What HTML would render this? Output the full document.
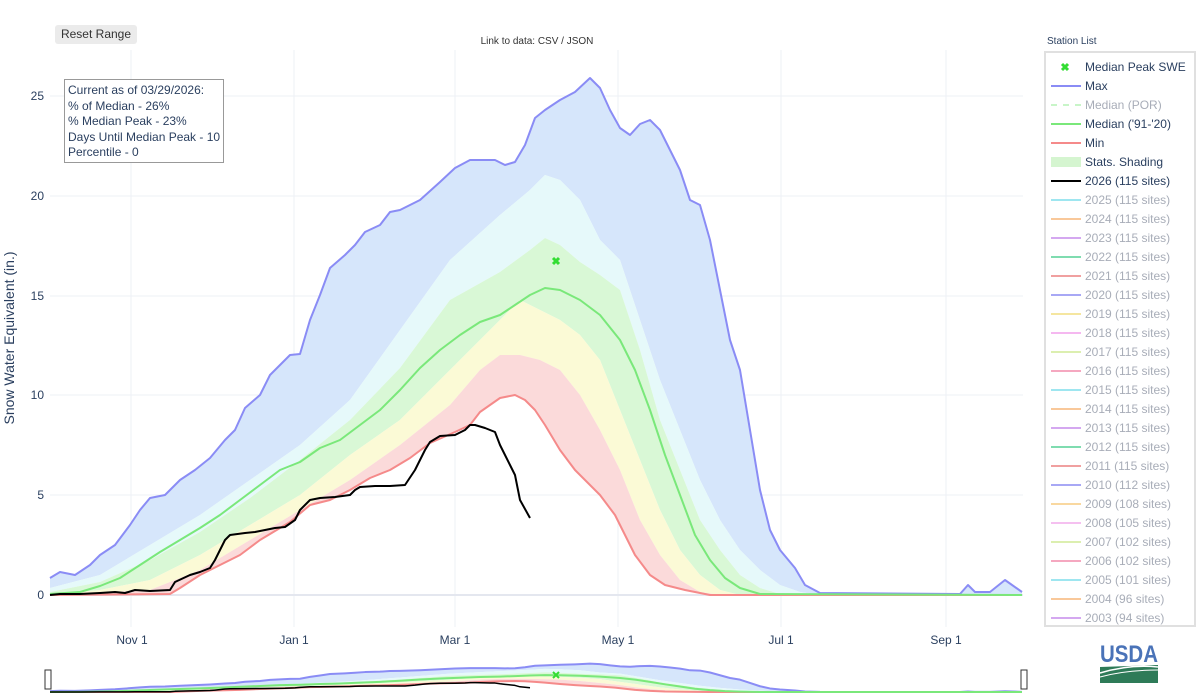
<!DOCTYPE html>
<html><head><meta charset="utf-8"><style>
body{margin:0;background:#fff;font-family:"Liberation Sans",sans-serif;}
svg{display:block}
</style></head><body>
<svg id="s" width="1200" height="700" xmlns="http://www.w3.org/2000/svg" font-family="Liberation Sans, sans-serif">
<rect width="1200" height="700" fill="#fff"/>
<g stroke="#eef0f6" stroke-width="1">
<line x1="131" y1="50" x2="131" y2="627"/><line x1="294" y1="50" x2="294" y2="627"/>
<line x1="455" y1="50" x2="455" y2="627"/><line x1="618" y1="50" x2="618" y2="627"/>
<line x1="781" y1="50" x2="781" y2="627"/><line x1="946" y1="50" x2="946" y2="627"/>
<line x1="50" y1="96" x2="1023" y2="96"/><line x1="50" y1="196" x2="1023" y2="196"/>
<line x1="50" y1="296" x2="1023" y2="296"/><line x1="50" y1="395" x2="1023" y2="395"/>
<line x1="50" y1="495" x2="1023" y2="495"/>
</g>
<line x1="50" y1="595" x2="1023" y2="595" stroke="#e4e7ef" stroke-width="2"/>
<g id="main"></g>
<g id="mini" transform="translate(0,659.3) scale(1,0.055)"></g>
<path d="M553,258 l6,6 M559,258 l-6,6" stroke="#33dd33" stroke-width="3"/>
<path d="M553,672 l6,6 M559,672 l-6,6" stroke="#33dd33" stroke-width="2"/>
<rect x="45" y="670" width="6" height="19" fill="#fff" stroke="#333"/>
<rect x="1021" y="670" width="6" height="19" fill="#fff" stroke="#333"/>
<g font-size="12" fill="#2a3f5f" text-anchor="end">
<text x="44" y="100">25</text><text x="44" y="200">20</text><text x="44" y="300">15</text>
<text x="44" y="399">10</text><text x="44" y="499">5</text><text x="44" y="599">0</text>
</g>
<g font-size="12" fill="#2a3f5f" text-anchor="middle">
<text x="132" y="644">Nov  1</text><text x="294" y="644">Jan  1</text><text x="455" y="644">Mar  1</text>
<text x="618" y="644">May  1</text><text x="781" y="644">Jul  1</text><text x="946" y="644">Sep  1</text>
</g>
<text transform="translate(14,338) rotate(-90)" font-size="14" fill="#2a3f5f" text-anchor="middle">Snow Water Equivalent (in.)</text>
<rect x="55" y="25" width="82" height="19" rx="3" fill="#ebebeb"/>
<text x="96" y="38" font-size="12" fill="#333" text-anchor="middle">Reset Range</text>
<text x="537" y="44" font-size="10" fill="#333" text-anchor="middle">Link to data: CSV / JSON</text>
<rect x="64.5" y="79.5" width="159" height="83" fill="#fff" stroke="#999"/>
<g font-size="12" fill="#2a3f5f"><text x="68" y="94">Current as of 03/29/2026:</text><text x="68" y="110">% of Median - 26%</text>
<text x="68" y="125">% Median Peak - 23%</text><text x="68" y="141">Days Until Median Peak - 10</text><text x="68" y="156">Percentile - 0</text></g>
<text x="1047" y="44" font-size="10" fill="#2a3f5f">Station List</text>
<rect x="1045" y="52" width="150" height="574" fill="#fff" stroke="#e0e0e0" stroke-width="2"/>
<g id="leg" font-size="12"></g>
<g>
<text x="1129" y="662" font-size="24" fill="#4a73b8" text-anchor="middle" font-weight="bold" textLength="58" lengthAdjust="spacingAndGlyphs">USDA</text>
<path d="M1100,667 L1158,665 L1158,683 L1100,683 Z" fill="#2e7b58"/>
<path d="M1100,673 Q1130,664 1158,667" stroke="#fff" stroke-width="1.5" fill="none"/>
<path d="M1100,677 Q1125,670 1158,670" stroke="#fff" stroke-width="1" fill="none"/>
</g>
</svg>
<script>
const P=s=>s.trim().split(/\s+/).map(t=>t.split(',').map(Number));
const max=P(`50,578 60,572 75,575 90,565 100,555 115,545 130,525 140,510 150,498 165,495 180,480 195,470 210,458 225,440 235,430 245,408 260,395 270,375 285,360 290,355 300,354 310,320 320,295 330,268 345,255 355,245 365,232 380,225 390,212 400,210 420,200 440,182 455,168 470,160 495,160 505,165 515,162 525,145 535,118 545,110 560,100 575,92 590,78 600,88 610,110 620,128 630,135 640,124 650,120 660,130 670,150 680,170 690,200 700,205 710,240 720,290 730,340 740,370 750,430 760,490 770,530 780,550 795,568 805,585 820,593 960,594 968,585 975,592 990,592 1005,580 1022,592`);
const p90=P(`50,588 100,575 150,545 200,515 250,480 300,445 350,400 400,330 450,260 500,215 530,190 545,175 560,180 580,200 600,240 620,260 640,320 660,380 680,430 700,480 720,520 740,550 760,570 780,585 800,592 820,595 1022,595`);
const p70=P(`50,592 100,582 150,560 200,532 250,498 300,460 350,420 400,368 450,300 500,272 530,250 545,238 560,245 580,262 600,275 620,290 640,350 660,420 680,470 700,520 720,550 740,575 760,588 780,594 1022,595`);
const p30=P(`50,595 100,590 150,580 200,555 250,525 300,495 350,455 400,420 450,370 480,340 500,320 520,300 540,310 560,320 580,335 600,360 620,410 640,460 660,510 680,550 700,575 720,590 740,595 1022,595`);
const p10=P(`50,595 150,590 200,570 250,540 300,510 350,480 400,445 450,405 480,370 500,355 520,355 540,360 560,370 580,395 600,430 620,470 640,520 660,555 680,580 700,592 720,595 1022,595`);
const min=P(`50,595 170,594 180,588 200,575 220,565 240,555 260,540 290,522 310,505 330,500 350,490 370,478 390,470 410,458 430,443 455,432 470,425 480,412 500,398 515,395 525,400 535,410 545,425 560,450 575,470 590,485 600,495 615,515 625,535 635,555 650,575 665,585 685,590 710,595 1022,595`);
const med=P(`50,594 80,592 100,586 120,578 140,565 160,552 180,540 200,528 220,515 240,500 260,485 280,470 300,462 320,448 340,440 360,425 380,410 400,390 420,368 440,350 460,335 480,322 500,315 515,305 530,295 545,288 560,290 580,300 600,315 620,340 635,370 650,410 665,455 680,495 695,535 710,560 725,578 740,588 760,594 1022,595`);
const cur=P(`50,595 60,594 80,594 100,593 115,592 125,593 135,590 150,591 170,590 175,582 190,575 200,572 210,568 215,560 225,540 230,535 245,533 255,532 265,530 275,528 285,527 295,520 300,510 310,500 320,498 335,497 350,495 355,490 360,487 375,486 390,486 405,485 415,470 425,450 430,442 440,436 455,435 465,430 470,425 475,425 485,428 490,430 495,432 500,445 505,455 510,465 515,475 520,500 530,518`);
const pts=a=>a.map(p=>p.join(',')).join(' ');
function band(t,b,c){return `<polygon points="${pts(t)} ${pts(b.slice().reverse())}" fill="${c}" stroke="none"/>`}
function line(a,c,w){return `<polyline points="${pts(a)}" fill="none" stroke="${c}" stroke-width="${w}" vector-effect="non-scaling-stroke" stroke-linejoin="round"/>`}
let h=band(max,p90,'#d6e6fb')+band(p90,p70,'#e6f9fa')+band(p70,p30,'#d9f8d6')+band(p30,p10,'#fbfad6')+band(p10,min,'#fbdada')
+line(max,'#8a8cf5',2)+line(min,'#f58a8a',2)+line(med,'#7ae87a',2);
document.getElementById('mini').innerHTML=h+line(cur,'#000',1.5);
document.getElementById('main').innerHTML=h+line(cur,'#000',2);
const L=[['Median Peak SWE','x','#33dd33',1],['Max','l','#8a8cf5',1],['Median (POR)','d','#c8f5c8',0],['Median (\'91-\'20)','l','#7ae87a',1],['Min','l','#f58a8a',1],['Stats. Shading','b','#d5f5d0',1],['2026 (115 sites)','l','#000',1]];
const yc=['#9ee6f0','#f9c89a','#d4a8f0','#7fdcb0','#f0a0a0','#a8a8f5','#f5e6a0','#f5b8f0','#dcefb0','#f5a8c0','#9ee6f0','#f9c89a','#d4a8f0','#7fdcb0','#f0a0a0','#a8a8f5','#f9d8a0','#f5c0f0','#dcefb0','#f5a8c0','#9ee6f0','#f9c89a','#d4a8f0'];
const yn=['2025 (115 sites)','2024 (115 sites)','2023 (115 sites)','2022 (115 sites)','2021 (115 sites)','2020 (115 sites)','2019 (115 sites)','2018 (115 sites)','2017 (115 sites)','2016 (115 sites)','2015 (115 sites)','2014 (115 sites)','2013 (115 sites)','2012 (115 sites)','2011 (115 sites)','2010 (112 sites)','2009 (108 sites)','2008 (105 sites)','2007 (102 sites)','2006 (102 sites)','2005 (101 sites)','2004 (96 sites)','2003 (94 sites)'];
yn.forEach((n,i)=>L.push([n,'l',yc[i],0]));
let g='';L.forEach((it,i)=>{const y=67+i*19;const tc=it[3]?'#2a3f5f':'#a8adb8';
if(it[1]=='x')g+=`<path d="M1062,${y-3} l6,6 M1068,${y-3} l-6,6" stroke="${it[2]}" stroke-width="3"/>`;
else if(it[1]=='l')g+=`<line x1="1051" y1="${y}" x2="1081" y2="${y}" stroke="${it[2]}" stroke-width="2"/>`;
else if(it[1]=='d')g+=`<line x1="1051" y1="${y}" x2="1081" y2="${y}" stroke="${it[2]}" stroke-width="2" stroke-dasharray="6,6"/>`;
else g+=`<rect x="1051" y="${y-5}" width="30" height="10" fill="${it[2]}"/>`;
g+=`<text x="1085" y="${y+4}" fill="${tc}">${it[0]}</text>`;});
document.getElementById('leg').innerHTML=g;
</script>
</body></html>
